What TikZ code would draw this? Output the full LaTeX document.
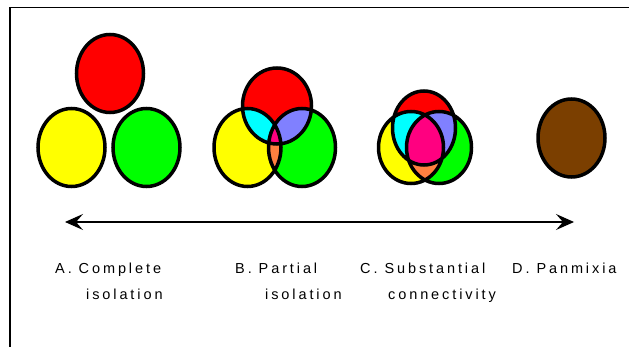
\documentclass[tikz,border=0pt]{standalone}
\usepackage{xcolor}
\usepackage{fontspec}
\usepackage{tikz}
\usetikzlibrary{arrows.meta}
\newfontfamily\stagefont[LetterSpace=20]{Liberation Sans}
\definecolor{popred}{HTML}{FF0000}
\definecolor{popyellow}{HTML}{FFFF00}
\definecolor{popgreen}{HTML}{00FF00}
\definecolor{popcyan}{HTML}{00FFFF}
\definecolor{popviolet}{HTML}{8080FF}
\definecolor{poporange}{HTML}{FF8040}
\definecolor{popmagenta}{HTML}{FF0080}
\definecolor{popbrown}{HTML}{7B3F00}
\tikzset{
  rim/.style       = {draw=black, line width=3.5pt},
  frameline/.style = {draw=black, line width=1.5pt},
  gradient/.style  = {{Stealth[length=18pt, width=16pt, inset=7pt]}-{Stealth[length=18pt, width=16pt, inset=7pt]},
                      draw=black, line width=1.2pt},
  stagetext/.style = {font=\stagefont\fontsize{14.5}{16}\selectfont, anchor=base west, inner sep=0pt},
}
% one deme = one ellipse, centre and radii in px
\newcommand{\deme}[4]{(#1,#2) ellipse [x radius=#3pt, y radius=#4pt]}

\begin{document}
\begin{tikzpicture}[x=1pt, y=-1pt]
  \useasboundingbox (0,0) rectangle (629,347);
  \draw[frameline] (10,347) -- (10,7.5) -- (629,7.5);

  % A: complete isolation
  \fill[popred]    \deme{110}{73.5}{33.5}{39};
  \fill[popyellow] \deme{71.5}{147.5}{33.5}{39};
  \fill[popgreen]  \deme{146.5}{147.5}{33.5}{39};
  \draw[rim] \deme{110}{73.5}{33.5}{39} \deme{71.5}{147.5}{33.5}{39} \deme{146.5}{147.5}{33.5}{39};

  % B: partial isolation
  \fill[popyellow] \deme{247.5}{147.5}{33.5}{39};
  \fill[popgreen]  \deme{302}{147.5}{33.5}{39};
  \fill[popred]    \deme{277}{106}{34.5}{38};
  \begin{scope}
    \clip \deme{277}{106}{34.5}{38};
    \fill[popcyan]   \deme{247.5}{147.5}{33.5}{39};
    \fill[popviolet] \deme{302}{147.5}{33.5}{39};
  \end{scope}
  \begin{scope}
    \clip \deme{247.5}{147.5}{33.5}{39};
    \fill[poporange] \deme{302}{147.5}{33.5}{39};
    \clip \deme{277}{106}{34.5}{38};
    \fill[popmagenta] \deme{302}{147.5}{33.5}{39};
  \end{scope}
  \draw[rim] \deme{277}{106}{34.5}{38} \deme{247.5}{147.5}{33.5}{39} \deme{302}{147.5}{33.5}{39};

  % C: substantial connectivity
  \fill[popyellow] \deme{411}{147.5}{32.5}{36};
  \fill[popgreen]  \deme{439}{147.5}{32.5}{36};
  \fill[popred]    \deme{424}{128}{31.5}{37};
  \begin{scope}
    \clip \deme{424}{128}{31.5}{37};
    \fill[popcyan]   \deme{411}{147.5}{32.5}{36};
    \fill[popviolet] \deme{439}{147.5}{32.5}{36};
  \end{scope}
  \begin{scope}
    \clip \deme{411}{147.5}{32.5}{36};
    \fill[poporange] \deme{439}{147.5}{32.5}{36};
    \clip \deme{424}{128}{31.5}{37};
    \fill[popmagenta] \deme{439}{147.5}{32.5}{36};
  \end{scope}
  \draw[rim] \deme{424}{128}{31.5}{37} \deme{411}{147.5}{32.5}{36} \deme{439}{147.5}{32.5}{36};

  % D: panmixia
  \filldraw[rim, fill=popbrown] \deme{571.5}{138}{33.5}{39};

  % gradient arrow
  \coordinate (isol) at (65,222);
  \coordinate (panm) at (574,222);
  \draw[gradient] (isol) -- (panm);

  % stage labels
  \node[stagetext] (stageA1) at (55,274)  {A. Complete};
  \node[stagetext] (stageA2) at (86,300)  {isolation};
  \node[stagetext] (stageB1) at (235,274) {B. Partial};
  \node[stagetext] (stageB2) at (265,300) {isolation};
  \node[stagetext] (stageC1) at (360,274) {C. Substantial};
  \node[stagetext] (stageC2) at (388,300) {connectivity};
  \node[stagetext] (stageD1) at (512,274) {D. Panmixia};
\end{tikzpicture}
\end{document}
